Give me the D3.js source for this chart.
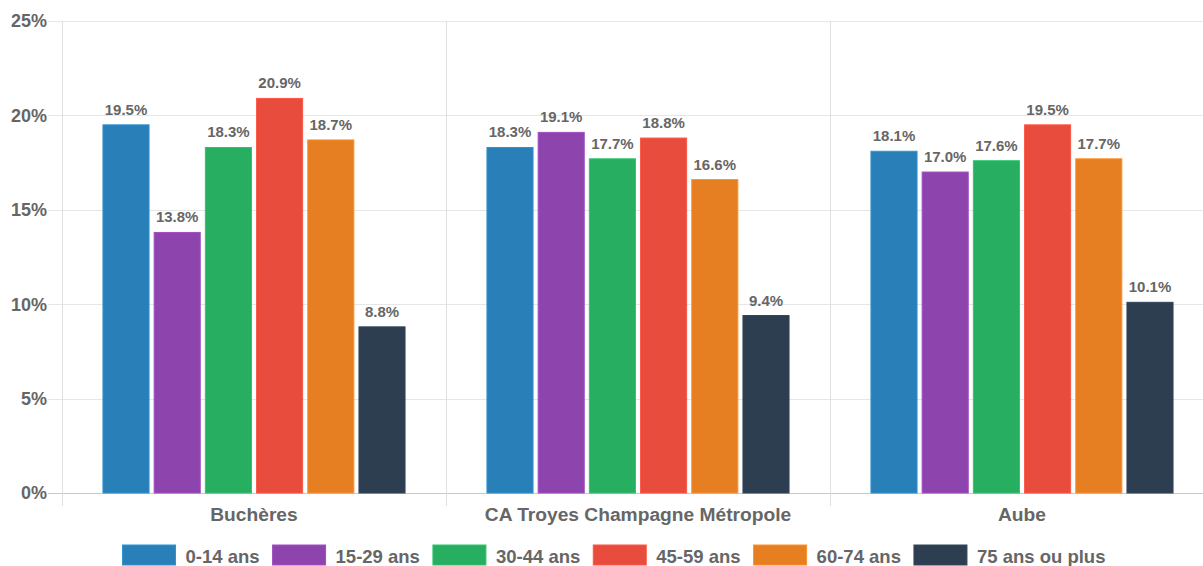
<!DOCTYPE html>
<html>
<head>
<meta charset="utf-8">
<script src="https://cdn.jsdelivr.net/npm/d3@7"></script>
<style>
  body { margin: 0; background: #fff; overflow: hidden; }
  svg { display: block; font-family: "Liberation Sans", Arial, sans-serif; font-weight: bold; }
</style>
</head>
<body>
<svg></svg>
<script>
// data
var categories = ["Buchères", "CA Troyes Champagne Métropole", "Aube"];
var series = ["0-14 ans", "15-29 ans", "30-44 ans", "45-59 ans", "60-74 ans", "75 ans ou plus"];
var colors = ["#2980b9", "#8e44ad", "#27ae60", "#e74c3c", "#e67e22", "#2c3e50"];
var values = [
  [19.5, 13.8, 18.3, 20.9, 18.7, 8.8],   // Buchères
  [18.3, 19.1, 17.7, 18.8, 16.6, 9.4],   // CA Troyes
  [18.1, 17.0, 17.6, 19.5, 17.7, 10.1]   // Aube
];
var yTicks = [0, 5, 10, 15, 20, 25];

var width = 1203, height = 566;
// plot area (window.top is taken, so prefixed names)
var pLeft = 62, pRight = 1214, pTop = 21, pBottom = 493;

var svg = d3.select("svg").attr("width", width).attr("height", height);

var x0 = d3.scaleBand().domain(categories).range([pLeft, pRight]);
var x1 = d3.scaleBand().domain(series)
  .range([x0.bandwidth() * 0.1, x0.bandwidth() * 0.9])
  .paddingInner(0.1).paddingOuter(0.05);
var y = d3.scaleLinear().domain([0, 25]).range([pBottom, pTop]);

// horizontal grid
svg.append("g").selectAll("line").data(yTicks).enter().append("line")
  .attr("x1", 48).attr("x2", pRight)
  .attr("y1", d => Math.round(y(d)) + 0.5).attr("y2", d => Math.round(y(d)) + 0.5)
  .attr("stroke", d => d === 0 ? "#c8c8c8" : "#e6e6e6")
  .attr("stroke-width", 1);

// vertical grid at category boundaries
svg.append("g").selectAll("line").data(categories).enter().append("line")
  .attr("x1", d => Math.round(x0(d)) + 0.5).attr("x2", d => Math.round(x0(d)) + 0.5)
  .attr("y1", pTop).attr("y2", pBottom + 13)
  .attr("stroke", "#e0e0e0");

// y tick labels
svg.append("g").selectAll("text").data(yTicks).enter().append("text")
  .attr("x", 47).attr("y", d => y(d))
  .attr("dy", "0.35em")
  .attr("text-anchor", "end")
  .attr("fill", "#666")
  .style("font-size", "18px")
  .text(d => d + "%");

// bars
var groups = svg.append("g").selectAll("g").data(categories).enter().append("g")
  .attr("transform", d => "translate(" + x0(d) + ",0)");

groups.each(function(cat, ci) {
  var g = d3.select(this);
  var rows = series.map((s, si) => ({ s: s, v: values[ci][si], c: colors[si] }));
  g.selectAll("rect").data(rows).enter().append("rect")
    .attr("x", d => x1(d.s))
    .attr("y", d => y(d.v))
    .attr("width", x1.bandwidth())
    .attr("height", d => pBottom - y(d.v))
    .attr("fill", d => d.c)
    .attr("stroke", d => d3.color(d.c).brighter(0.35))
    .attr("stroke-width", 1);
  g.selectAll("text").data(rows).enter().append("text")
    .attr("x", d => x1(d.s) + x1.bandwidth() / 2)
    .attr("y", d => y(d.v) - 10)
    .attr("text-anchor", "middle")
    .attr("fill", "#666")
    .style("font-size", "15px")
    .text(d => d.v.toFixed(1) + "%");
});

// category labels
svg.append("g").selectAll("text").data(categories).enter().append("text")
  .attr("x", d => x0(d) + x0.bandwidth() / 2)
  .attr("y", 521)
  .attr("text-anchor", "middle")
  .attr("fill", "#666")
  .style("font-size", "19.2px")
  .text(d => d);

// legend
var legend = svg.append("g");
var boxW = 53, boxH = 20, gapText = 10, gapItem = 13;
var items = legend.selectAll("g").data(series).enter().append("g");
items.append("rect")
  .attr("width", boxW).attr("height", boxH)
  .attr("fill", (d, i) => colors[i])
  .attr("stroke", (d, i) => d3.color(colors[i]).brighter(0.35));
items.append("text")
  .attr("x", boxW + gapText).attr("y", boxH / 2 + 2)
  .attr("dy", "0.35em")
  .attr("fill", "#666")
  .style("font-size", "18.5px")
  .text(d => d);
var widths = [];
items.each(function() {
  widths.push(boxW + gapText + d3.select(this).select("text").node().getComputedTextLength());
});
var total = d3.sum(widths) + gapItem * (widths.length - 1);
var cx = 614 - total / 2;
items.attr("transform", function(d, i) {
  var t = "translate(" + cx + ",545)";
  cx += widths[i] + gapItem;
  return t;
});
</script>
</body>
</html>
